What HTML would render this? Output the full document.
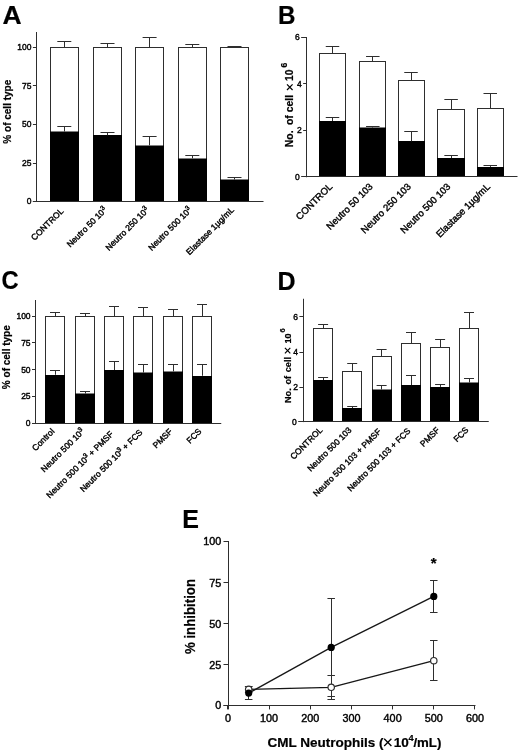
<!DOCTYPE html>
<html><head><meta charset="utf-8"><title>Figure</title>
<style>
html,body{margin:0;padding:0;background:#fff;}
body{width:520px;height:754px;overflow:hidden;}
svg{display:block;font-family:"Liberation Sans", sans-serif;fill:#000;}
</style></head><body>
<svg width="520" height="754" viewBox="0 0 520 754">
<defs><filter id="soft" x="0" y="0" width="520" height="754" filterUnits="userSpaceOnUse"><feGaussianBlur stdDeviation="0.4"/></filter></defs>
<rect x="0" y="0" width="520" height="754" fill="#fff"/>
<g filter="url(#soft)">
<text transform="translate(2.40 23.70) rotate(0) scale(1.06 1)" font-size="25" text-anchor="start" font-weight="bold" stroke="#000" stroke-width="0.2">A</text>
<rect x="50.50" y="47.50" width="28.00" height="154.00" fill="#fff" stroke="#2e2e2e" stroke-width="1.0"/>
<rect x="50.00" y="131.50" width="29.00" height="70.00" fill="#000"/>
<line x1="64.50" y1="47.30" x2="64.50" y2="41.60" stroke="#2e2e2e" stroke-width="1.0"/>
<line x1="57.30" y1="41.50" x2="71.30" y2="41.50" stroke="#2e2e2e" stroke-width="1.0"/>
<line x1="64.50" y1="131.50" x2="64.50" y2="126.20" stroke="#2e2e2e" stroke-width="1.0"/>
<line x1="57.30" y1="126.50" x2="71.30" y2="126.50" stroke="#2e2e2e" stroke-width="1.0"/>
<rect x="93.50" y="47.50" width="28.00" height="154.00" fill="#fff" stroke="#2e2e2e" stroke-width="1.0"/>
<rect x="93.00" y="135.00" width="29.00" height="66.50" fill="#000"/>
<line x1="107.50" y1="47.30" x2="107.50" y2="43.60" stroke="#2e2e2e" stroke-width="1.0"/>
<line x1="100.50" y1="43.50" x2="114.50" y2="43.50" stroke="#2e2e2e" stroke-width="1.0"/>
<line x1="107.50" y1="135.22" x2="107.50" y2="132.47" stroke="#2e2e2e" stroke-width="1.0"/>
<line x1="100.50" y1="132.50" x2="114.50" y2="132.50" stroke="#2e2e2e" stroke-width="1.0"/>
<rect x="135.50" y="47.50" width="28.00" height="154.00" fill="#fff" stroke="#2e2e2e" stroke-width="1.0"/>
<rect x="135.00" y="145.50" width="29.00" height="56.00" fill="#000"/>
<line x1="149.50" y1="47.30" x2="149.50" y2="37.50" stroke="#2e2e2e" stroke-width="1.0"/>
<line x1="142.60" y1="37.50" x2="156.60" y2="37.50" stroke="#2e2e2e" stroke-width="1.0"/>
<line x1="149.50" y1="145.35" x2="149.50" y2="136.03" stroke="#2e2e2e" stroke-width="1.0"/>
<line x1="142.60" y1="136.50" x2="156.60" y2="136.50" stroke="#2e2e2e" stroke-width="1.0"/>
<rect x="178.50" y="47.50" width="28.00" height="154.00" fill="#fff" stroke="#2e2e2e" stroke-width="1.0"/>
<rect x="178.00" y="158.50" width="29.00" height="43.00" fill="#000"/>
<line x1="192.50" y1="47.30" x2="192.50" y2="44.50" stroke="#2e2e2e" stroke-width="1.0"/>
<line x1="185.30" y1="44.50" x2="199.30" y2="44.50" stroke="#2e2e2e" stroke-width="1.0"/>
<line x1="192.50" y1="158.27" x2="192.50" y2="155.78" stroke="#2e2e2e" stroke-width="1.0"/>
<line x1="185.30" y1="155.50" x2="199.30" y2="155.50" stroke="#2e2e2e" stroke-width="1.0"/>
<rect x="220.50" y="47.50" width="28.00" height="154.00" fill="#fff" stroke="#2e2e2e" stroke-width="1.0"/>
<rect x="220.00" y="179.50" width="29.00" height="22.00" fill="#000"/>
<line x1="234.50" y1="47.30" x2="234.50" y2="46.60" stroke="#2e2e2e" stroke-width="1.0"/>
<line x1="227.50" y1="46.50" x2="241.50" y2="46.50" stroke="#2e2e2e" stroke-width="1.0"/>
<line x1="234.50" y1="179.50" x2="234.50" y2="177.80" stroke="#2e2e2e" stroke-width="1.0"/>
<line x1="227.50" y1="177.50" x2="241.50" y2="177.50" stroke="#2e2e2e" stroke-width="1.0"/>
<line x1="36.50" y1="32.00" x2="36.50" y2="201.80" stroke="#2e2e2e" stroke-width="1.0"/>
<line x1="32.90" y1="201.50" x2="263.50" y2="201.50" stroke="#2e2e2e" stroke-width="1.0"/>
<line x1="32.90" y1="47.50" x2="36.50" y2="47.50" stroke="#2e2e2e" stroke-width="1.0"/>
<text x="31.50" y="50.26" font-size="8.5" text-anchor="end" stroke="#000" stroke-width="0.4">100</text>
<line x1="32.90" y1="85.50" x2="36.50" y2="85.50" stroke="#2e2e2e" stroke-width="1.0"/>
<text x="31.50" y="88.76" font-size="8.5" text-anchor="end" stroke="#000" stroke-width="0.4">75</text>
<line x1="32.90" y1="124.50" x2="36.50" y2="124.50" stroke="#2e2e2e" stroke-width="1.0"/>
<text x="31.50" y="127.36" font-size="8.5" text-anchor="end" stroke="#000" stroke-width="0.4">50</text>
<line x1="32.90" y1="163.50" x2="36.50" y2="163.50" stroke="#2e2e2e" stroke-width="1.0"/>
<text x="31.50" y="166.06" font-size="8.5" text-anchor="end" stroke="#000" stroke-width="0.4">25</text>
<line x1="32.90" y1="201.50" x2="36.50" y2="201.50" stroke="#2e2e2e" stroke-width="1.0"/>
<text x="31.50" y="204.36" font-size="8.5" text-anchor="end" stroke="#000" stroke-width="0.4">0</text>
<text x="10.60" y="111.70" font-size="10" text-anchor="middle" font-weight="bold" stroke="#000" stroke-width="0.2" transform="rotate(-90 10.60 111.70)">% of cell type</text>
<text x="64.00" y="211.70" font-size="8.5" text-anchor="end" stroke="#000" stroke-width="0.4" transform="rotate(-45 64.00 211.70)">CONTROL</text>
<text x="107.50" y="210.50" font-size="8.5" text-anchor="end" stroke="#000" stroke-width="0.4" transform="rotate(-45 107.50 210.50)">Neutro 50 10<tspan font-size="6.5" dy="-3.2">3</tspan></text>
<text x="149.60" y="210.50" font-size="8.5" text-anchor="end" stroke="#000" stroke-width="0.4" transform="rotate(-45 149.60 210.50)">Neutro 250 10<tspan font-size="6.5" dy="-3.2">3</tspan></text>
<text x="192.30" y="210.50" font-size="8.5" text-anchor="end" stroke="#000" stroke-width="0.4" transform="rotate(-45 192.30 210.50)">Neutro 500 10<tspan font-size="6.5" dy="-3.2">3</tspan></text>
<text x="234.50" y="210.50" font-size="8.5" text-anchor="end" stroke="#000" stroke-width="0.4" transform="rotate(-45 234.50 210.50)">Elastase 1µg/mL</text>
<text transform="translate(278.00 24.00) rotate(0) scale(0.97 1)" font-size="25" text-anchor="start" font-weight="bold" stroke="#000" stroke-width="0.2">B</text>
<rect x="319.50" y="53.50" width="26.00" height="123.00" fill="#fff" stroke="#2e2e2e" stroke-width="1.0"/>
<rect x="319.00" y="121.00" width="27.00" height="55.50" fill="#000"/>
<line x1="332.50" y1="53.00" x2="332.50" y2="46.75" stroke="#2e2e2e" stroke-width="1.0"/>
<line x1="325.75" y1="46.50" x2="339.25" y2="46.50" stroke="#2e2e2e" stroke-width="1.0"/>
<line x1="332.50" y1="121.00" x2="332.50" y2="117.75" stroke="#2e2e2e" stroke-width="1.0"/>
<line x1="325.75" y1="117.50" x2="339.25" y2="117.50" stroke="#2e2e2e" stroke-width="1.0"/>
<rect x="359.50" y="61.50" width="26.00" height="115.00" fill="#fff" stroke="#2e2e2e" stroke-width="1.0"/>
<rect x="359.00" y="127.50" width="27.00" height="49.00" fill="#000"/>
<line x1="372.50" y1="61.50" x2="372.50" y2="56.00" stroke="#2e2e2e" stroke-width="1.0"/>
<line x1="366.05" y1="56.50" x2="379.55" y2="56.50" stroke="#2e2e2e" stroke-width="1.0"/>
<line x1="372.50" y1="127.50" x2="372.50" y2="126.80" stroke="#2e2e2e" stroke-width="1.0"/>
<line x1="366.05" y1="126.50" x2="379.55" y2="126.50" stroke="#2e2e2e" stroke-width="1.0"/>
<rect x="398.50" y="80.50" width="26.00" height="96.00" fill="#fff" stroke="#2e2e2e" stroke-width="1.0"/>
<rect x="398.00" y="141.00" width="27.00" height="35.50" fill="#000"/>
<line x1="411.50" y1="80.80" x2="411.50" y2="72.75" stroke="#2e2e2e" stroke-width="1.0"/>
<line x1="404.25" y1="72.50" x2="417.75" y2="72.50" stroke="#2e2e2e" stroke-width="1.0"/>
<line x1="411.50" y1="141.25" x2="411.50" y2="131.50" stroke="#2e2e2e" stroke-width="1.0"/>
<line x1="404.25" y1="131.50" x2="417.75" y2="131.50" stroke="#2e2e2e" stroke-width="1.0"/>
<rect x="437.50" y="109.50" width="27.00" height="67.00" fill="#fff" stroke="#2e2e2e" stroke-width="1.0"/>
<rect x="437.00" y="158.00" width="28.00" height="18.50" fill="#000"/>
<line x1="451.50" y1="109.25" x2="451.50" y2="99.25" stroke="#2e2e2e" stroke-width="1.0"/>
<line x1="444.35" y1="99.50" x2="457.85" y2="99.50" stroke="#2e2e2e" stroke-width="1.0"/>
<line x1="451.50" y1="158.00" x2="451.50" y2="155.50" stroke="#2e2e2e" stroke-width="1.0"/>
<line x1="444.35" y1="155.50" x2="457.85" y2="155.50" stroke="#2e2e2e" stroke-width="1.0"/>
<rect x="477.50" y="108.50" width="26.00" height="68.00" fill="#fff" stroke="#2e2e2e" stroke-width="1.0"/>
<rect x="477.00" y="167.00" width="27.00" height="9.50" fill="#000"/>
<line x1="490.50" y1="108.50" x2="490.50" y2="93.25" stroke="#2e2e2e" stroke-width="1.0"/>
<line x1="483.50" y1="93.50" x2="497.00" y2="93.50" stroke="#2e2e2e" stroke-width="1.0"/>
<line x1="490.50" y1="166.90" x2="490.50" y2="165.50" stroke="#2e2e2e" stroke-width="1.0"/>
<line x1="483.50" y1="165.50" x2="497.00" y2="165.50" stroke="#2e2e2e" stroke-width="1.0"/>
<line x1="306.50" y1="37.00" x2="306.50" y2="177.25" stroke="#2e2e2e" stroke-width="1.0"/>
<line x1="303.15" y1="176.50" x2="517.50" y2="176.50" stroke="#2e2e2e" stroke-width="1.0"/>
<line x1="301.15" y1="37.50" x2="306.75" y2="37.50" stroke="#2e2e2e" stroke-width="1.0"/>
<text x="299.75" y="40.31" font-size="8.5" text-anchor="end" stroke="#000" stroke-width="0.4">6</text>
<line x1="303.15" y1="83.50" x2="306.75" y2="83.50" stroke="#2e2e2e" stroke-width="1.0"/>
<text x="301.75" y="86.81" font-size="8.5" text-anchor="end" stroke="#000" stroke-width="0.4">4</text>
<line x1="303.15" y1="130.50" x2="306.75" y2="130.50" stroke="#2e2e2e" stroke-width="1.0"/>
<text x="301.75" y="133.31" font-size="8.5" text-anchor="end" stroke="#000" stroke-width="0.4">2</text>
<line x1="301.15" y1="176.50" x2="306.75" y2="176.50" stroke="#2e2e2e" stroke-width="1.0"/>
<text x="299.75" y="179.81" font-size="8.5" text-anchor="end" stroke="#000" stroke-width="0.4">0</text>
<text x="333.00" y="187.25" font-size="9.6" text-anchor="end" stroke="#000" stroke-width="0.4" transform="rotate(-45 333.00 187.25)">CONTROL</text>
<text x="373.30" y="187.25" font-size="9.6" text-anchor="end" stroke="#000" stroke-width="0.4" transform="rotate(-45 373.30 187.25)">Neutro 50 103</text>
<text x="411.50" y="187.25" font-size="9.6" text-anchor="end" stroke="#000" stroke-width="0.4" transform="rotate(-45 411.50 187.25)">Neutro 250 103</text>
<text x="451.10" y="187.25" font-size="9.6" text-anchor="end" stroke="#000" stroke-width="0.4" transform="rotate(-45 451.10 187.25)">Neutro 500 103</text>
<text x="490.75" y="187.25" font-size="9.6" text-anchor="end" stroke="#000" stroke-width="0.4" transform="rotate(-45 490.75 187.25)">Elastase 1µg/mL</text>
<g transform="translate(293.20 147.20) rotate(-90)" font-weight="bold" font-size="10.4" stroke="#000" stroke-width="0.2"><text x="0.00" y="0">No.</text><text x="22.20" y="0">of</text><text x="34.90" y="0">cell</text><text x="66.10" y="0">10</text><text x="79.70" y="-5.80" font-size="8.5">6</text><path d="M57.20 -6.22L62.80 -0.62M57.20 -0.62L62.80 -6.22" stroke="#000" stroke-width="1.2" fill="none"/></g>
<text transform="translate(1.60 289.00) rotate(0) scale(0.95 1)" font-size="25" text-anchor="start" font-weight="bold" stroke="#000" stroke-width="0.2">C</text>
<rect x="45.50" y="316.50" width="19.00" height="107.00" fill="#fff" stroke="#2e2e2e" stroke-width="1.0"/>
<rect x="45.00" y="375.00" width="20.00" height="48.50" fill="#000"/>
<line x1="55.50" y1="316.00" x2="55.50" y2="312.00" stroke="#2e2e2e" stroke-width="1.0"/>
<line x1="50.00" y1="312.50" x2="60.00" y2="312.50" stroke="#2e2e2e" stroke-width="1.0"/>
<line x1="55.50" y1="374.75" x2="55.50" y2="370.50" stroke="#2e2e2e" stroke-width="1.0"/>
<line x1="50.00" y1="370.50" x2="60.00" y2="370.50" stroke="#2e2e2e" stroke-width="1.0"/>
<rect x="75.50" y="316.50" width="19.00" height="107.00" fill="#fff" stroke="#2e2e2e" stroke-width="1.0"/>
<rect x="75.00" y="393.50" width="20.00" height="30.00" fill="#000"/>
<line x1="85.50" y1="316.00" x2="85.50" y2="313.75" stroke="#2e2e2e" stroke-width="1.0"/>
<line x1="80.00" y1="313.50" x2="90.00" y2="313.50" stroke="#2e2e2e" stroke-width="1.0"/>
<line x1="85.50" y1="393.50" x2="85.50" y2="391.50" stroke="#2e2e2e" stroke-width="1.0"/>
<line x1="80.00" y1="391.50" x2="90.00" y2="391.50" stroke="#2e2e2e" stroke-width="1.0"/>
<rect x="104.50" y="316.50" width="19.00" height="107.00" fill="#fff" stroke="#2e2e2e" stroke-width="1.0"/>
<rect x="104.00" y="370.00" width="20.00" height="53.50" fill="#000"/>
<line x1="114.50" y1="316.00" x2="114.50" y2="306.75" stroke="#2e2e2e" stroke-width="1.0"/>
<line x1="109.00" y1="306.50" x2="119.00" y2="306.50" stroke="#2e2e2e" stroke-width="1.0"/>
<line x1="114.50" y1="370.00" x2="114.50" y2="361.25" stroke="#2e2e2e" stroke-width="1.0"/>
<line x1="109.00" y1="361.50" x2="119.00" y2="361.50" stroke="#2e2e2e" stroke-width="1.0"/>
<rect x="133.50" y="316.50" width="19.00" height="107.00" fill="#fff" stroke="#2e2e2e" stroke-width="1.0"/>
<rect x="133.00" y="372.50" width="20.00" height="51.00" fill="#000"/>
<line x1="143.50" y1="316.00" x2="143.50" y2="307.50" stroke="#2e2e2e" stroke-width="1.0"/>
<line x1="138.00" y1="307.50" x2="148.00" y2="307.50" stroke="#2e2e2e" stroke-width="1.0"/>
<line x1="143.50" y1="372.60" x2="143.50" y2="364.50" stroke="#2e2e2e" stroke-width="1.0"/>
<line x1="138.00" y1="364.50" x2="148.00" y2="364.50" stroke="#2e2e2e" stroke-width="1.0"/>
<rect x="163.50" y="316.50" width="19.00" height="107.00" fill="#fff" stroke="#2e2e2e" stroke-width="1.0"/>
<rect x="163.00" y="371.50" width="20.00" height="52.00" fill="#000"/>
<line x1="173.50" y1="316.00" x2="173.50" y2="309.25" stroke="#2e2e2e" stroke-width="1.0"/>
<line x1="168.00" y1="309.50" x2="178.00" y2="309.50" stroke="#2e2e2e" stroke-width="1.0"/>
<line x1="173.50" y1="371.40" x2="173.50" y2="364.75" stroke="#2e2e2e" stroke-width="1.0"/>
<line x1="168.00" y1="364.50" x2="178.00" y2="364.50" stroke="#2e2e2e" stroke-width="1.0"/>
<rect x="192.50" y="316.50" width="19.00" height="107.00" fill="#fff" stroke="#2e2e2e" stroke-width="1.0"/>
<rect x="192.00" y="376.00" width="20.00" height="47.50" fill="#000"/>
<line x1="202.50" y1="316.00" x2="202.50" y2="304.25" stroke="#2e2e2e" stroke-width="1.0"/>
<line x1="197.00" y1="304.50" x2="207.00" y2="304.50" stroke="#2e2e2e" stroke-width="1.0"/>
<line x1="202.50" y1="375.75" x2="202.50" y2="364.25" stroke="#2e2e2e" stroke-width="1.0"/>
<line x1="197.00" y1="364.50" x2="207.00" y2="364.50" stroke="#2e2e2e" stroke-width="1.0"/>
<line x1="35.50" y1="300.00" x2="35.50" y2="423.50" stroke="#2e2e2e" stroke-width="1.0"/>
<line x1="32.00" y1="423.50" x2="221.25" y2="423.50" stroke="#2e2e2e" stroke-width="1.0"/>
<line x1="32.00" y1="316.50" x2="35.60" y2="316.50" stroke="#2e2e2e" stroke-width="1.0"/>
<text x="30.60" y="319.06" font-size="8.5" text-anchor="end" stroke="#000" stroke-width="0.4">100</text>
<line x1="32.00" y1="342.50" x2="35.60" y2="342.50" stroke="#2e2e2e" stroke-width="1.0"/>
<text x="30.60" y="345.81" font-size="8.5" text-anchor="end" stroke="#000" stroke-width="0.4">75</text>
<line x1="32.00" y1="369.50" x2="35.60" y2="369.50" stroke="#2e2e2e" stroke-width="1.0"/>
<text x="30.60" y="372.56" font-size="8.5" text-anchor="end" stroke="#000" stroke-width="0.4">50</text>
<line x1="32.00" y1="396.50" x2="35.60" y2="396.50" stroke="#2e2e2e" stroke-width="1.0"/>
<text x="30.60" y="399.31" font-size="8.5" text-anchor="end" stroke="#000" stroke-width="0.4">25</text>
<line x1="32.00" y1="423.50" x2="35.60" y2="423.50" stroke="#2e2e2e" stroke-width="1.0"/>
<text x="30.60" y="426.06" font-size="8.5" text-anchor="end" stroke="#000" stroke-width="0.4">0</text>
<text x="10.00" y="357.20" font-size="10" text-anchor="middle" font-weight="bold" stroke="#000" stroke-width="0.2" transform="rotate(-90 10.00 357.20)">% of cell type</text>
<text x="55.00" y="432.00" font-size="8.5" text-anchor="end" stroke="#000" stroke-width="0.4" transform="rotate(-45 55.00 432.00)">Control</text>
<text x="85.00" y="432.00" font-size="8.5" text-anchor="end" stroke="#000" stroke-width="0.4" transform="rotate(-45 85.00 432.00)">Neutro 500 10<tspan font-size="6.5" dy="-3.2">3</tspan></text>
<text x="114.00" y="434.50" font-size="8.5" text-anchor="end" stroke="#000" stroke-width="0.4" transform="rotate(-45 114.00 434.50)">Neutro 500 10<tspan font-size="6.5" dy="-3.2">3</tspan><tspan dy="3.2"> </tspan>+ PMSF</text>
<text x="143.00" y="433.00" font-size="8.5" text-anchor="end" stroke="#000" stroke-width="0.4" transform="rotate(-45 143.00 433.00)">Neutro 500 10<tspan font-size="6.5" dy="-3.2">3</tspan><tspan dy="3.2"> </tspan>+ FCS</text>
<text x="173.00" y="432.00" font-size="8.5" text-anchor="end" stroke="#000" stroke-width="0.4" transform="rotate(-45 173.00 432.00)">PMSF</text>
<text x="202.00" y="432.00" font-size="8.5" text-anchor="end" stroke="#000" stroke-width="0.4" transform="rotate(-45 202.00 432.00)">FCS</text>
<text x="277.50" y="290.30" font-size="25" text-anchor="start" font-weight="bold" stroke="#000" stroke-width="0.2">D</text>
<rect x="313.50" y="328.50" width="19.00" height="93.00" fill="#fff" stroke="#2e2e2e" stroke-width="1.0"/>
<rect x="313.00" y="380.00" width="20.00" height="41.50" fill="#000"/>
<line x1="323.50" y1="328.50" x2="323.50" y2="324.25" stroke="#2e2e2e" stroke-width="1.0"/>
<line x1="318.10" y1="324.50" x2="328.10" y2="324.50" stroke="#2e2e2e" stroke-width="1.0"/>
<line x1="323.50" y1="380.00" x2="323.50" y2="377.50" stroke="#2e2e2e" stroke-width="1.0"/>
<line x1="318.10" y1="377.50" x2="328.10" y2="377.50" stroke="#2e2e2e" stroke-width="1.0"/>
<rect x="342.50" y="371.50" width="19.00" height="50.00" fill="#fff" stroke="#2e2e2e" stroke-width="1.0"/>
<rect x="342.00" y="408.00" width="20.00" height="13.50" fill="#000"/>
<line x1="352.50" y1="371.50" x2="352.50" y2="363.25" stroke="#2e2e2e" stroke-width="1.0"/>
<line x1="347.20" y1="363.50" x2="357.20" y2="363.50" stroke="#2e2e2e" stroke-width="1.0"/>
<line x1="352.50" y1="408.00" x2="352.50" y2="406.25" stroke="#2e2e2e" stroke-width="1.0"/>
<line x1="347.20" y1="406.50" x2="357.20" y2="406.50" stroke="#2e2e2e" stroke-width="1.0"/>
<rect x="372.50" y="356.50" width="19.00" height="65.00" fill="#fff" stroke="#2e2e2e" stroke-width="1.0"/>
<rect x="372.00" y="389.50" width="20.00" height="32.00" fill="#000"/>
<line x1="381.50" y1="356.25" x2="381.50" y2="349.40" stroke="#2e2e2e" stroke-width="1.0"/>
<line x1="376.60" y1="349.50" x2="386.60" y2="349.50" stroke="#2e2e2e" stroke-width="1.0"/>
<line x1="381.50" y1="389.50" x2="381.50" y2="385.40" stroke="#2e2e2e" stroke-width="1.0"/>
<line x1="376.60" y1="385.50" x2="386.60" y2="385.50" stroke="#2e2e2e" stroke-width="1.0"/>
<rect x="401.50" y="343.50" width="19.00" height="78.00" fill="#fff" stroke="#2e2e2e" stroke-width="1.0"/>
<rect x="401.00" y="385.00" width="20.00" height="36.50" fill="#000"/>
<line x1="411.50" y1="343.25" x2="411.50" y2="332.75" stroke="#2e2e2e" stroke-width="1.0"/>
<line x1="406.00" y1="332.50" x2="416.00" y2="332.50" stroke="#2e2e2e" stroke-width="1.0"/>
<line x1="411.50" y1="385.00" x2="411.50" y2="375.75" stroke="#2e2e2e" stroke-width="1.0"/>
<line x1="406.00" y1="375.50" x2="416.00" y2="375.50" stroke="#2e2e2e" stroke-width="1.0"/>
<rect x="430.50" y="347.50" width="19.00" height="74.00" fill="#fff" stroke="#2e2e2e" stroke-width="1.0"/>
<rect x="430.00" y="387.00" width="20.00" height="34.50" fill="#000"/>
<line x1="440.50" y1="347.00" x2="440.50" y2="339.25" stroke="#2e2e2e" stroke-width="1.0"/>
<line x1="435.10" y1="339.50" x2="445.10" y2="339.50" stroke="#2e2e2e" stroke-width="1.0"/>
<line x1="440.50" y1="386.90" x2="440.50" y2="384.50" stroke="#2e2e2e" stroke-width="1.0"/>
<line x1="435.10" y1="384.50" x2="445.10" y2="384.50" stroke="#2e2e2e" stroke-width="1.0"/>
<rect x="459.50" y="328.50" width="19.00" height="93.00" fill="#fff" stroke="#2e2e2e" stroke-width="1.0"/>
<rect x="459.00" y="382.50" width="20.00" height="39.00" fill="#000"/>
<line x1="469.50" y1="328.50" x2="469.50" y2="312.00" stroke="#2e2e2e" stroke-width="1.0"/>
<line x1="464.00" y1="312.50" x2="474.00" y2="312.50" stroke="#2e2e2e" stroke-width="1.0"/>
<line x1="469.50" y1="382.50" x2="469.50" y2="378.10" stroke="#2e2e2e" stroke-width="1.0"/>
<line x1="464.00" y1="378.50" x2="474.00" y2="378.50" stroke="#2e2e2e" stroke-width="1.0"/>
<line x1="303.50" y1="298.75" x2="303.50" y2="422.10" stroke="#2e2e2e" stroke-width="1.0"/>
<line x1="299.40" y1="421.50" x2="488.75" y2="421.50" stroke="#2e2e2e" stroke-width="1.0"/>
<line x1="299.40" y1="316.50" x2="303.00" y2="316.50" stroke="#2e2e2e" stroke-width="1.0"/>
<text x="298.00" y="319.81" font-size="8.5" text-anchor="end" stroke="#000" stroke-width="0.4">6</text>
<line x1="299.40" y1="352.50" x2="303.00" y2="352.50" stroke="#2e2e2e" stroke-width="1.0"/>
<text x="298.00" y="355.06" font-size="8.5" text-anchor="end" stroke="#000" stroke-width="0.4">4</text>
<line x1="299.40" y1="387.50" x2="303.00" y2="387.50" stroke="#2e2e2e" stroke-width="1.0"/>
<text x="298.00" y="390.06" font-size="8.5" text-anchor="end" stroke="#000" stroke-width="0.4">2</text>
<line x1="298.20" y1="421.50" x2="303.00" y2="421.50" stroke="#2e2e2e" stroke-width="1.0"/>
<text x="296.80" y="424.66" font-size="8.5" text-anchor="end" stroke="#000" stroke-width="0.4">0</text>
<text x="323.10" y="430.60" font-size="8.5" text-anchor="end" stroke="#000" stroke-width="0.4" transform="rotate(-45 323.10 430.60)">CONTROL</text>
<text x="352.20" y="430.60" font-size="8.5" text-anchor="end" stroke="#000" stroke-width="0.4" transform="rotate(-45 352.20 430.60)">Neutro 500 103</text>
<text x="381.60" y="432.10" font-size="8.5" text-anchor="end" stroke="#000" stroke-width="0.4" transform="rotate(-45 381.60 432.10)">Neutro 500 103 + PMSF</text>
<text x="411.00" y="431.60" font-size="8.5" text-anchor="end" stroke="#000" stroke-width="0.4" transform="rotate(-45 411.00 431.60)">Neutro 500 103 + FCS</text>
<text x="440.10" y="430.60" font-size="8.5" text-anchor="end" stroke="#000" stroke-width="0.4" transform="rotate(-45 440.10 430.60)">PMSF</text>
<text x="469.00" y="430.60" font-size="8.5" text-anchor="end" stroke="#000" stroke-width="0.4" transform="rotate(-45 469.00 430.60)">FCS</text>
<g transform="translate(290.60 403.10) rotate(-90)" font-weight="bold" font-size="9.2" stroke="#000" stroke-width="0.2"><text x="0.00" y="0">No.</text><text x="18.50" y="0">of</text><text x="30.80" y="0">cell</text><text x="59.60" y="0">10</text><text x="70.60" y="-5.20" font-size="7.5">6</text><path d="M49.80 -5.69L55.20 -0.29M49.80 -0.29L55.20 -5.69" stroke="#000" stroke-width="1.2" fill="none"/></g>
<text x="182.30" y="528.00" font-size="25" text-anchor="start" font-weight="bold" stroke="#000" stroke-width="0.2">E</text>
<line x1="228.50" y1="541.00" x2="228.50" y2="709.40" stroke="#2e2e2e" stroke-width="1.0"/>
<line x1="223.50" y1="705.50" x2="475.48" y2="705.50" stroke="#2e2e2e" stroke-width="1.0"/>
<line x1="223.50" y1="541.50" x2="228.50" y2="541.50" stroke="#2e2e2e" stroke-width="1.0"/>
<text transform="translate(221.20 545.30) rotate(0) scale(1.05 1)" font-size="10.3" text-anchor="end" stroke="#000" stroke-width="0.4">100</text>
<line x1="223.50" y1="582.50" x2="228.50" y2="582.50" stroke="#2e2e2e" stroke-width="1.0"/>
<text transform="translate(221.20 586.50) rotate(0) scale(1.05 1)" font-size="10.3" text-anchor="end" stroke="#000" stroke-width="0.4">75</text>
<line x1="223.50" y1="623.50" x2="228.50" y2="623.50" stroke="#2e2e2e" stroke-width="1.0"/>
<text transform="translate(221.20 627.50) rotate(0) scale(1.05 1)" font-size="10.3" text-anchor="end" stroke="#000" stroke-width="0.4">50</text>
<line x1="223.50" y1="664.50" x2="228.50" y2="664.50" stroke="#2e2e2e" stroke-width="1.0"/>
<text transform="translate(221.20 668.60) rotate(0) scale(1.05 1)" font-size="10.3" text-anchor="end" stroke="#000" stroke-width="0.4">25</text>
<line x1="223.50" y1="705.50" x2="228.50" y2="705.50" stroke="#2e2e2e" stroke-width="1.0"/>
<text transform="translate(221.20 709.40) rotate(0) scale(1.05 1)" font-size="10.3" text-anchor="end" stroke="#000" stroke-width="0.4">0</text>
<line x1="227.50" y1="705.40" x2="227.50" y2="709.40" stroke="#2e2e2e" stroke-width="1.0"/>
<text transform="translate(227.90 722.40) rotate(0) scale(1.05 1)" font-size="10.3" text-anchor="middle" stroke="#000" stroke-width="0.4">0</text>
<line x1="269.50" y1="705.40" x2="269.50" y2="709.40" stroke="#2e2e2e" stroke-width="1.0"/>
<text transform="translate(269.08 722.40) rotate(0) scale(1.05 1)" font-size="10.3" text-anchor="middle" stroke="#000" stroke-width="0.4">100</text>
<line x1="310.50" y1="705.40" x2="310.50" y2="709.40" stroke="#2e2e2e" stroke-width="1.0"/>
<text transform="translate(310.26 722.40) rotate(0) scale(1.05 1)" font-size="10.3" text-anchor="middle" stroke="#000" stroke-width="0.4">200</text>
<line x1="351.50" y1="705.40" x2="351.50" y2="709.40" stroke="#2e2e2e" stroke-width="1.0"/>
<text transform="translate(351.44 722.40) rotate(0) scale(1.05 1)" font-size="10.3" text-anchor="middle" stroke="#000" stroke-width="0.4">300</text>
<line x1="392.50" y1="705.40" x2="392.50" y2="709.40" stroke="#2e2e2e" stroke-width="1.0"/>
<text transform="translate(392.62 722.40) rotate(0) scale(1.05 1)" font-size="10.3" text-anchor="middle" stroke="#000" stroke-width="0.4">400</text>
<line x1="433.50" y1="705.40" x2="433.50" y2="709.40" stroke="#2e2e2e" stroke-width="1.0"/>
<text transform="translate(433.80 722.40) rotate(0) scale(1.05 1)" font-size="10.3" text-anchor="middle" stroke="#000" stroke-width="0.4">500</text>
<line x1="474.50" y1="705.40" x2="474.50" y2="709.40" stroke="#2e2e2e" stroke-width="1.0"/>
<text transform="translate(474.98 722.40) rotate(0) scale(1.05 1)" font-size="10.3" text-anchor="middle" stroke="#000" stroke-width="0.4">600</text>
<text transform="translate(195.30 616.50) rotate(-90) scale(0.91 1)" font-size="14.6" text-anchor="middle" font-weight="bold" stroke="#000" stroke-width="0.2">% inhibition</text>
<text transform="translate(267.40 747.20) rotate(0) scale(1.066 1)" font-size="12.7" text-anchor="start" font-weight="bold" stroke="#000" stroke-width="0.2">CML Neutrophils (</text>
<text transform="translate(393.80 747.20) rotate(0) scale(1.068 1)" font-size="12.7" text-anchor="start" font-weight="bold" stroke="#000" stroke-width="0.2">10</text>
<text transform="translate(408.50 741.10) rotate(0) scale(1.05 1)" font-size="8.8" text-anchor="start" font-weight="bold" stroke="#000" stroke-width="0.2">4</text>
<text transform="translate(413.40 747.20) rotate(0) scale(1.045 1)" font-size="12.7" text-anchor="start" font-weight="bold" stroke="#000" stroke-width="0.2">/mL)</text>
<path d="M384.2 738.8L391.4 746.0M384.2 746.0L391.4 738.8" stroke="#000" stroke-width="1.3" fill="none"/>
<text x="433.70" y="568.20" font-size="15" text-anchor="middle" font-weight="bold" stroke="#000" stroke-width="0.2">*</text>
<polyline points="248.7,693.1 331.2,647.4 433.8,596.4" fill="none" stroke="#161616" stroke-width="1.3"/>
<polyline points="248.7,689.4 331.2,687.3 433.8,660.7" fill="none" stroke="#161616" stroke-width="1.3"/>
<line x1="248.50" y1="686.60" x2="248.50" y2="699.50" stroke="#2e2e2e" stroke-width="1.0"/>
<line x1="244.95" y1="686.50" x2="252.45" y2="686.50" stroke="#2e2e2e" stroke-width="1.0"/>
<line x1="244.95" y1="699.50" x2="252.45" y2="699.50" stroke="#2e2e2e" stroke-width="1.0"/>
<line x1="248.50" y1="686.60" x2="248.50" y2="692.00" stroke="#2e2e2e" stroke-width="1.0"/>
<line x1="244.95" y1="686.50" x2="252.45" y2="686.50" stroke="#2e2e2e" stroke-width="1.0"/>
<line x1="244.95" y1="692.50" x2="252.45" y2="692.50" stroke="#2e2e2e" stroke-width="1.0"/>
<line x1="331.50" y1="598.00" x2="331.50" y2="696.80" stroke="#2e2e2e" stroke-width="1.0"/>
<line x1="327.45" y1="598.50" x2="334.95" y2="598.50" stroke="#2e2e2e" stroke-width="1.0"/>
<line x1="327.45" y1="696.50" x2="334.95" y2="696.50" stroke="#2e2e2e" stroke-width="1.0"/>
<line x1="331.50" y1="675.10" x2="331.50" y2="699.30" stroke="#2e2e2e" stroke-width="1.0"/>
<line x1="327.45" y1="675.50" x2="334.95" y2="675.50" stroke="#2e2e2e" stroke-width="1.0"/>
<line x1="327.45" y1="699.50" x2="334.95" y2="699.50" stroke="#2e2e2e" stroke-width="1.0"/>
<line x1="433.50" y1="580.00" x2="433.50" y2="612.20" stroke="#2e2e2e" stroke-width="1.0"/>
<line x1="430.05" y1="580.50" x2="437.55" y2="580.50" stroke="#2e2e2e" stroke-width="1.0"/>
<line x1="430.05" y1="612.50" x2="437.55" y2="612.50" stroke="#2e2e2e" stroke-width="1.0"/>
<line x1="433.50" y1="640.60" x2="433.50" y2="680.30" stroke="#2e2e2e" stroke-width="1.0"/>
<line x1="430.05" y1="640.50" x2="437.55" y2="640.50" stroke="#2e2e2e" stroke-width="1.0"/>
<line x1="430.05" y1="680.50" x2="437.55" y2="680.50" stroke="#2e2e2e" stroke-width="1.0"/>
<circle cx="248.7" cy="689.4" r="3.2" fill="#fff" stroke="#2e2e2e" stroke-width="1.2"/>
<circle cx="331.2" cy="687.3" r="3.2" fill="#fff" stroke="#2e2e2e" stroke-width="1.2"/>
<circle cx="433.8" cy="660.7" r="3.2" fill="#fff" stroke="#2e2e2e" stroke-width="1.2"/>
<circle cx="248.7" cy="693.1" r="3.6" fill="#000"/>
<circle cx="331.2" cy="647.4" r="3.6" fill="#000"/>
<circle cx="433.8" cy="596.4" r="3.6" fill="#000"/>
</g>
</svg>
</body></html>
